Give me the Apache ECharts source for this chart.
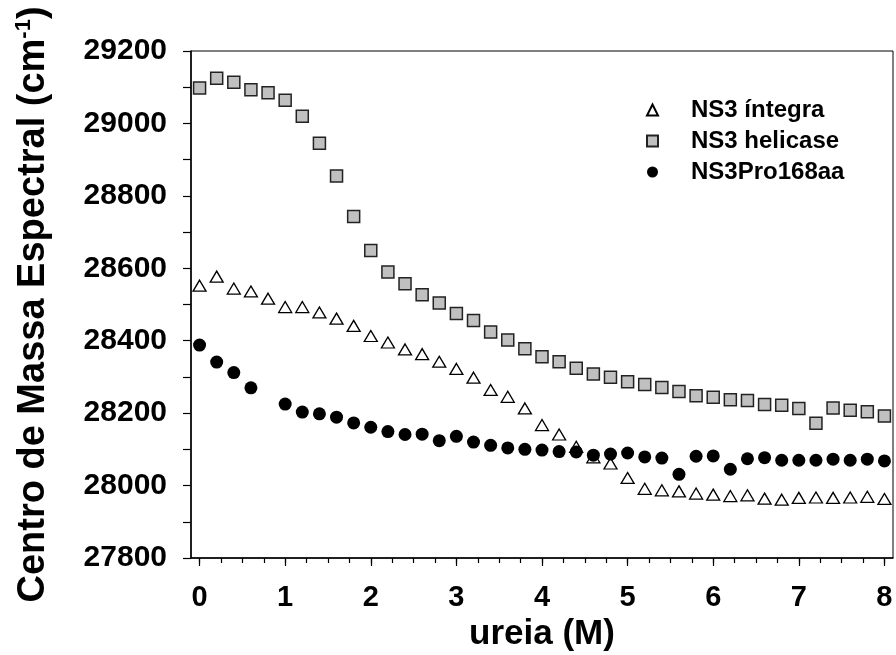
<!DOCTYPE html>
<html>
<head>
<meta charset="utf-8">
<script src="https://cdn.jsdelivr.net/npm/echarts@6/dist/echarts.min.js"></script>
<style>
  html, body { margin: 0; padding: 0; background: #fff; }
  #chart { width: 896px; height: 655px; }
</style>
</head>
<body>
<div id="chart"></div>
<script>
// ureia concentration (M), step 0.2
const ureia = [0, 0.2, 0.4, 0.6, 0.8, 1.0, 1.2, 1.4, 1.6, 1.8, 2.0, 2.2, 2.4, 2.6, 2.8, 3.0, 3.2, 3.4, 3.6, 3.8,
  4.0, 4.2, 4.4, 4.6, 4.8, 5.0, 5.2, 5.4, 5.6, 5.8, 6.0, 6.2, 6.4, 6.6, 6.8, 7.0, 7.2, 7.4, 7.6, 7.8, 8.0];

const integra = [28552, 28577, 28544, 28536, 28516, 28493, 28493, 28478, 28461, 28441, 28413, 28395, 28376, 28363, 28342,
  28322, 28298, 28264, 28245, 28213, 28167, 28141, 28107, 28078, 28061, 28021, 27991, 27987, 27984, 27978, 27975,
  27971, 27973, 27964, 27961, 27966, 27967, 27966, 27967, 27969, 27963];

const helicase = [29098, 29125, 29114, 29093, 29085, 29064, 29020, 28945, 28855, 28743, 28649, 28590, 28557, 28527, 28504,
  28475, 28456, 28424, 28402, 28378, 28356, 28342, 28324, 28308, 28299, 28287, 28279, 28271, 28260, 28248, 28244,
  28237, 28235, 28224, 28222, 28213, 28172, 28214, 28208, 28204, 28192];

// no point measured at 0.8 M
const pro168 = [28388, 28341, 28312, 28270, null, 28225, 28203, 28198, 28189, 28173, 28161, 28149, 28141, 28142, 28124,
  28136, 28120, 28111, 28104, 28100, 28098, 28094, 28093, 28084, 28087, 28090, 28079, 28076, 28031, 28081, 28082,
  28045, 28074, 28077, 28070, 28070, 28070, 28073, 28070, 28073, 28068];

const xTicks = [0, 1, 2, 3, 4, 5, 6, 7, 8];
const xMinorTicks = Array.from({ length: 33 }, (_, i) => i * 0.25);
const seriesNames = ["NS3 íntegra", "NS3 helicase", "NS3Pro168aa"];

const font = "'Liberation Sans', Arial, sans-serif";

function pairs(ys) {
  return ys.map((y, i) => [ureia[i], y]).filter((p) => p[1] !== null);
}

const chart = echarts.init(document.getElementById("chart"), null, { renderer: "canvas" });

chart.setOption({
  animation: false,
  backgroundColor: "#fff",
  grid: {
    left: 191, right: 3, top: 51, bottom: 97,
    show: true, borderColor: "#000", borderWidth: 1,
    backgroundColor: "transparent",
    outerBoundsMode: "none"
  },
  legend: {
    orient: "vertical",
    left: 641,
    top: 93,
    itemWidth: 11,
    itemHeight: 11,
    itemGap: 7,
    data: seriesNames,
    textStyle: { fontFamily: font, fontWeight: "bold", fontSize: 24, color: "#000", padding: [0, 0, 0, 28] }
  },
  xAxis: [{
    type: "value",
    min: -0.1,
    max: 8.1,
    position: "bottom",
    name: "ureia (M)",
    nameLocation: "middle",
    nameGap: 57,
    nameTextStyle: { fontFamily: font, fontWeight: "bold", fontSize: 35, color: "#000" },
    axisLine: { onZero: false, lineStyle: { color: "#000", width: 1.5 } },
    axisTick: { customValues: xTicks, length: 8, lineStyle: { color: "#000", width: 1.2 } },
    axisLabel: {
      customValues: xTicks, margin: 25,
      fontFamily: font, fontWeight: "bold", fontSize: 29, color: "#000"
    },
    splitLine: { show: false }
  }, {
    type: "value",
    min: -0.1,
    max: 8.1,
    position: "bottom",
    axisLine: { show: false },
    axisTick: { customValues: xMinorTicks, length: 5, lineStyle: { color: "#000", width: 1.2 } },
    axisLabel: { show: false },
    splitLine: { show: false }
  }],
  yAxis: {
    type: "value",
    min: 27800,
    max: 29200,
    interval: 200,
    name: "{a|Centro de Massa Espectral (cm}{b|-1}{a|)}",
    nameLocation: "middle",
    nameRotate: 90,
    nameGap: 136,
    nameTextStyle: {
      rich: {
        a: { fontFamily: font, fontWeight: "bold", fontSize: 38, color: "#000", lineHeight: 42 },
        b: { fontFamily: font, fontWeight: "bold", fontSize: 22, color: "#000", lineHeight: 42, verticalAlign: "top", padding: [0, 0, 14, 0] }
      }
    },
    axisLine: { onZero: false, lineStyle: { color: "#000", width: 1.5 } },
    axisTick: { length: 8, lineStyle: { color: "#000", width: 1.2 } },
    minorTick: { show: true, splitNumber: 2, length: 8, lineStyle: { color: "#000", width: 1.2 } },
    axisLabel: {
      margin: 24, fontFamily: font, fontWeight: "bold", fontSize: 30, color: "#000",
      formatter: (v) => String(v)
    },
    splitLine: { show: false }
  },
  series: [{
    name: seriesNames[0],
    type: "scatter",
    symbol: "triangle",
    symbolSize: [13, 11],
    itemStyle: { color: "#fff", borderColor: "#000", borderWidth: 1.3, opacity: 1 },
    data: pairs(integra)
  }, {
    name: seriesNames[1],
    type: "scatter",
    symbol: "rect",
    symbolSize: 12,
    itemStyle: { color: "#c0c0c0", borderColor: "#222", borderWidth: 1.5, opacity: 1 },
    data: pairs(helicase)
  }, {
    name: seriesNames[2],
    type: "scatter",
    symbol: "circle",
    symbolSize: 13,
    itemStyle: { color: "#000", borderColor: "#000", borderWidth: 0, opacity: 1 },
    data: pairs(pro168)
  }]
});
</script>
</body>
</html>
